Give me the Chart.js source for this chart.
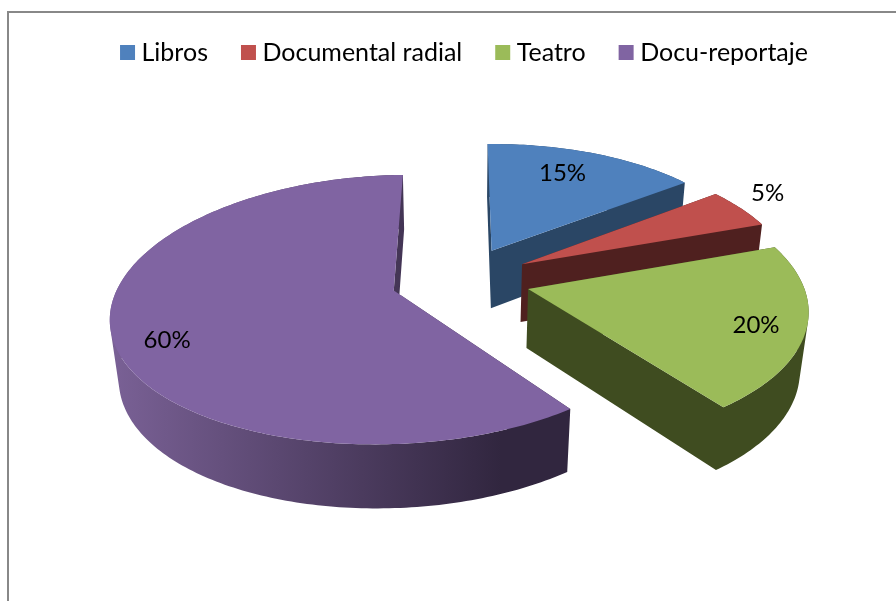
<!DOCTYPE html>
<html><head><meta charset="utf-8">
<style>html,body{margin:0;padding:0;background:#fff;overflow:hidden}canvas{display:block}</style>
<script src="https://cdn.jsdelivr.net/npm/chart.js@4"></script>
</head><body><canvas id="c" width="896" height="601"></canvas>
<script>
const categories = ['Libros','Documental radial','Teatro','Docu-reportaje'];
const values = [15,5,20,60];
const topColors = ['#4F81BD','#C0504D','#9BBB59','#8064A2'];
const wallColors = [['#2A4665','#2A4665'],['#4F201F','#4F201F'],['#3F4C20','#3F4C20'],['#7A6196','#31263F']];
const labelRadii = [0.76,1.18,0.83,0.83];
const labelTurns = [-3,-3,2,-6];

const CAM = {px:461, py:279.5, A:273.5, B:129, C:60, k:0.14, kx:0.155, j:0.004, m:0.025, s:3};
function project(X,Y,Z){
  const wx = 1 - CAM.kx*Y + CAM.j*X + CAM.m*Z;
  const wy = 1 - CAM.k*Y + CAM.j*X + CAM.m*Z;
  return [CAM.px + CAM.A*X/wx, CAM.py + (CAM.B*Y + CAM.C*Z)/wy - CAM.s*X];
}
function area(q){let t=0;q.forEach((p,i)=>{const n=q[(i+1)%q.length];t+=p[0]*n[1]-n[0]*p[1];});return t;}
function quadsFill(ctx,quads,fill){
  ctx.beginPath();
  quads.forEach(q=>{
    const o=area(q)<0?q.slice().reverse():q;
    o.forEach((p,i)=> i?ctx.lineTo(p[0],p[1]):ctx.moveTo(p[0],p[1]));
    ctx.closePath();
  });
  ctx.fillStyle=fill; ctx.fill();
}
const pie3d = {
  id:'pie3d',
  beforeDraw(chart){
    const ctx=chart.ctx;
    ctx.save();
    ctx.fillStyle='#fff'; ctx.fillRect(0,0,896,601);
    ctx.fillStyle='#888888';
    ctx.fillRect(7,11,889,2);
    ctx.fillRect(7,11,2,590);
    ctx.restore();
  },
  beforeDatasetsDraw(chart){
    const ctx=chart.ctx, meta=chart.getDatasetMeta(0);
    const total=values.reduce((a,b)=>a+b,0);
    ctx.save();
    const labels=[];
    meta.data.forEach((arc,i)=>{
      const {startAngle:a0,endAngle:a1,outerRadius:r}=arc.getProps(['startAngle','endAngle','outerRadius'],true);
      const mid=(a0+a1)/2, d=arc.options.offset/r;
      const ox=Math.cos(mid)*d, oy=Math.sin(mid)*d;
      const n=Math.max(8,Math.ceil((a1-a0)*180/Math.PI));
      const top=[],bot=[];
      for(let s=0;s<=n;s++){
        const t=a0+(a1-a0)*s/n, X=ox+Math.cos(t), Y=oy+Math.sin(t);
        top.push(project(X,Y,0)); bot.push(project(X,Y,1));
      }
      const xs=top.concat(bot).map(p=>p[0]);
      const g=ctx.createLinearGradient(Math.min(...xs),0,Math.max(...xs),0);
      g.addColorStop(0,wallColors[i][0]); g.addColorStop(0.85,wallColors[i][1]); g.addColorStop(1,wallColors[i][1]);
      const a=project(ox,oy,0), b=project(ox,oy,1);
      const quads=[[a,top[0],bot[0],b],[a,top[n],bot[n],b]];
      for(let s=0;s<n;s++) quads.push([top[s],top[s+1],bot[s+1],bot[s]]);
      quadsFill(ctx,quads,g);
      quadsFill(ctx,[[a].concat(top)],topColors[i]);
      const lr=labelRadii[i], la=mid+labelTurns[i]*Math.PI/180;
      labels.push([project(ox+Math.cos(la)*lr,oy+Math.sin(la)*lr,0),Math.round(values[i]/total*100)+'%']);
    });
    ctx.fillStyle='#000'; ctx.font='24px Lato'; ctx.textAlign='center'; ctx.textBaseline='middle';
    labels.forEach(l=>ctx.fillText(l[1],l[0][0],l[0][1]));
    ctx.restore();
    return false;
  }
};
new Chart(document.getElementById('c'),{
  type:'pie',
  data:{labels:categories,datasets:[{data:values,backgroundColor:topColors,borderWidth:0,offset:59.5}]},
  options:{
    responsive:false,animation:false,
    layout:{padding:{left:38,top:1}},
    plugins:{
      tooltip:{enabled:false},
      legend:{position:'top',labels:{color:'#000',font:{family:'Lato',size:25},usePointStyle:true,pointStyle:'rect',boxWidth:3,boxHeight:15,padding:39}}
    }
  },
  plugins:[pie3d]
});
</script></body></html>
